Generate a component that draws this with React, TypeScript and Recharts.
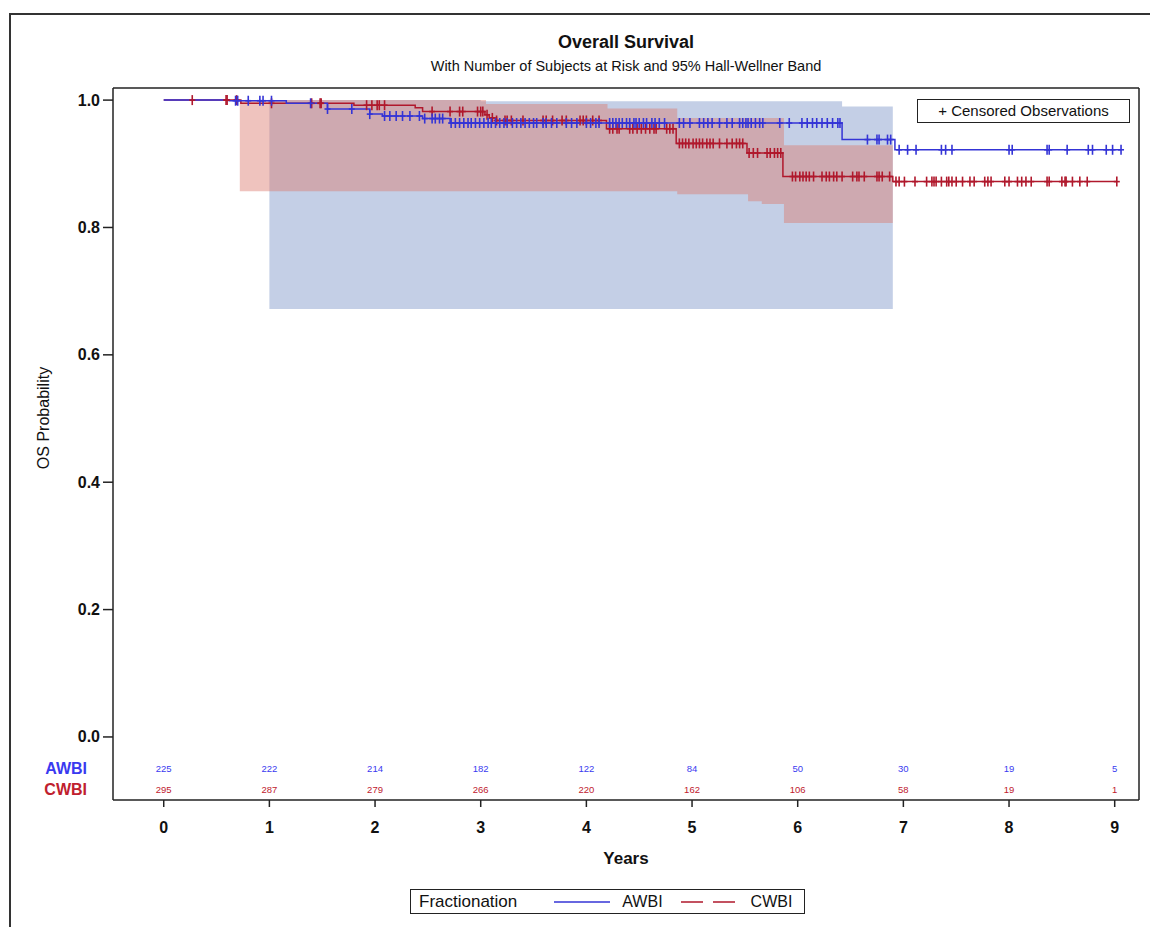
import React from 'react';
import { ComposedChart, Line, Area, Scatter, XAxis, YAxis } from 'recharts';

// axis ticks
const YEAR_TICKS = [0, 1, 2, 3, 4, 5, 6, 7, 8, 9];
const PROB_TICKS = [0, 0.2, 0.4, 0.6, 0.8, 1.0];

// number of subjects at risk at each year tick
const AWBI_AT_RISK = [225, 222, 214, 182, 122, 84, 50, 30, 19, 5];
const CWBI_AT_RISK = [295, 287, 279, 266, 220, 162, 106, 58, 19, 1];

// Kaplan-Meier steps (time in years, survival after the step)
const AWBI_STEP_T = [0, 0.62, 1.16, 1.55, 1.95, 2.07, 2.45, 2.71, 6.42, 6.92, 9.06];
const AWBI_STEP_S = [1.0, 0.999, 0.995, 0.986, 0.978, 0.975, 0.971, 0.964, 0.938, 0.922, 0.922];
const CWBI_STEP_T = [0, 0.73, 1.8, 2.38, 2.45, 3.04, 3.08, 3.15, 4.19, 4.85, 5.52, 5.86, 6.9, 9.02];
const CWBI_STEP_S = [1.0, 0.995, 0.992, 0.988, 0.982, 0.977, 0.972, 0.968, 0.955, 0.932, 0.917, 0.88, 0.872, 0.872];

// censored observations (years)
const AWBI_CENSORED = [
  0.68, 0.7, 0.8, 0.91, 0.94, 1.02, 1.39, 1.55, 1.78, 1.95, 2.09, 2.14, 2.2, 2.26, 2.33, 2.42, 2.47,
  2.54, 2.57, 2.61, 2.64, 2.72, 2.76, 2.8, 2.84, 2.88, 2.91, 2.95, 2.99, 3.03, 3.07, 3.1, 3.14, 3.18,
  3.22, 3.25, 3.3, 3.34, 3.38, 3.42, 3.46, 3.5, 3.53, 3.59, 3.62, 3.67, 3.72, 3.81, 3.86, 3.91, 4.0,
  4.04, 4.09, 4.12, 4.22, 4.25, 4.28, 4.31, 4.34, 4.38, 4.41, 4.45, 4.47, 4.5, 4.54, 4.57, 4.62, 4.65,
  4.69, 4.74, 4.88, 4.92, 4.98, 5.07, 5.11, 5.15, 5.19, 5.26, 5.33, 5.38, 5.45, 5.48, 5.51, 5.53, 5.56,
  5.6, 5.64, 5.67, 5.83, 5.92, 6.04, 6.09, 6.14, 6.18, 6.23, 6.28, 6.33, 6.38, 6.4, 6.66, 6.75, 6.77,
  6.85, 6.88, 6.96, 7.04, 7.12, 7.36, 7.4, 7.46, 8.0, 8.03, 8.36, 8.38, 8.55, 8.75, 8.79, 8.92, 8.98, 9.06,
];
const CWBI_CENSORED = [
  0.27, 0.59, 0.6, 0.69, 1.02, 1.4, 1.48, 1.49, 1.92, 1.97, 2.02, 2.04, 2.09, 2.54, 2.71, 2.8, 2.83,
  2.97, 3.0, 3.02, 3.06, 3.11, 3.15, 3.23, 3.25, 3.29, 3.4, 3.59, 3.62, 3.68, 3.77, 3.81, 3.94, 3.97,
  4.0, 4.06, 4.12, 4.22, 4.25, 4.29, 4.31, 4.41, 4.44, 4.48, 4.52, 4.56, 4.6, 4.64, 4.66, 4.76, 4.79,
  4.82, 4.88, 4.91, 4.94, 4.97, 5.01, 5.04, 5.07, 5.1, 5.14, 5.17, 5.2, 5.26, 5.33, 5.38, 5.42, 5.45,
  5.48, 5.54, 5.58, 5.62, 5.71, 5.74, 5.78, 5.81, 5.84, 5.95, 5.98, 6.02, 6.05, 6.08, 6.11, 6.15, 6.23,
  6.27, 6.3, 6.34, 6.37, 6.42, 6.52, 6.56, 6.58, 6.63, 6.75, 6.77, 6.8, 6.87, 6.93, 6.96, 7.01, 7.11,
  7.22, 7.27, 7.29, 7.31, 7.36, 7.41, 7.43, 7.46, 7.5, 7.56, 7.63, 7.67, 7.77, 7.8, 7.83, 7.96, 8.0,
  8.08, 8.12, 8.16, 8.21, 8.36, 8.38, 8.5, 8.53, 8.54, 8.6, 8.67, 8.74, 9.02,
];

// 95% Hall-Wellner bands: step time, lower, upper
const AWBI_BAND_T = [1.0, 3.0, 6.42, 6.9];
const AWBI_BAND_LO = [0.672, 0.672, 0.672, 0.672];
const AWBI_BAND_HI = [1.0, 0.998, 0.99, 0.99];
const CWBI_BAND_T = [0.72, 3.05, 4.2, 4.86, 5.53, 5.66, 5.87, 6.9];
const CWBI_BAND_LO = [0.857, 0.857, 0.857, 0.852, 0.841, 0.837, 0.807, 0.807];
const CWBI_BAND_HI = [1.0, 0.994, 0.987, 0.972, 0.972, 0.972, 0.929, 0.929];

const BLUE = '#3434d6';
const RED = '#b0182c';
const FONT = '"Liberation Sans", Arial, sans-serif';

// rows of the at-risk table sit under 0 on the probability axis
const RISK_ROWS = [
  { name: 'AWBI', y: -0.049, color: '#3a3af0', counts: AWBI_AT_RISK },
  { name: 'CWBI', y: -0.083, color: '#c0202e', counts: CWBI_AT_RISK },
];

const survAt = (times: number[], surv: number[], t: number) => {
  let s = surv[0];
  times.forEach((tt, i) => { if (tt <= t) s = surv[i]; });
  return s;
};

const kmData = (times: number[], surv: number[]) => times.map((t, i) => ({ t, s: surv[i] }));
const bandData = (times: number[], lo: number[], hi: number[]) =>
  times.map((t, i) => ({ t, band: [lo[i], hi[i]] }));
const censorData = (cens: number[], times: number[], surv: number[]) =>
  cens.map(t => ({ t, s: survAt(times, surv, t) }));

const awbiKm = kmData(AWBI_STEP_T, AWBI_STEP_S);
const cwbiKm = kmData(CWBI_STEP_T, CWBI_STEP_S);
const awbiBand = bandData(AWBI_BAND_T, AWBI_BAND_LO, AWBI_BAND_HI);
const cwbiBand = bandData(CWBI_BAND_T, CWBI_BAND_LO, CWBI_BAND_HI);
const awbiCens = censorData(AWBI_CENSORED, AWBI_STEP_T, AWBI_STEP_S);
const cwbiCens = censorData(CWBI_CENSORED, CWBI_STEP_T, CWBI_STEP_S);
const riskData = RISK_ROWS.map(r => YEAR_TICKS.map((t, i) => ({ t, y: r.y, n: r.counts[i] })));

const censorShape = (color: string) => (props: any) => {
  const { cx, cy } = props;
  return (
    <g stroke={color} strokeWidth={1.6}>
      <line x1={cx} x2={cx} y1={cy - 5} y2={cy + 5} />
      <line x1={cx - 3} x2={cx + 3} y1={cy} y2={cy} />
    </g>
  );
};

const riskShape = (color: string) => (props: any) => (
  <text x={props.cx} y={props.cy} textAnchor="middle" dominantBaseline="central"
    fontSize={9.5} fontFamily={FONT} fill={color}>{props.payload.n}</text>
);

const ProbTick = (props: any) => {
  const { x, y, payload } = props;
  const row = RISK_ROWS.find(r => Math.abs(r.y - payload.value) < 1e-6);
  if (row) {
    return (
      <text x={x - 13} y={y} textAnchor="end" dominantBaseline="central" fontSize={16}
        fontWeight="bold" fontFamily={FONT} fill={row.color}>{row.name}</text>
    );
  }
  return (
    <g>
      <line x1={x + 3} x2={x + 13} y1={y} y2={y} stroke="#222" strokeWidth={1.5} />
      <text x={x} y={y} textAnchor="end" dominantBaseline="central" fontSize={16}
        fontWeight="bold" fontFamily={FONT} fill="#111">{payload.value.toFixed(1)}</text>
    </g>
  );
};

const axisLine = { stroke: '#222', strokeWidth: 1.5 };

export default function App() {
  return (
    <div style={{ position: 'absolute', left: 0, top: 0, width: 1150, height: 927, overflow: 'hidden', background: '#fff', fontFamily: FONT }}>
      <div style={{ position: 'absolute', left: 9, top: 13, width: 1160, height: 940, borderTop: '2px solid #333', borderLeft: '2px solid #333' }} />
      <div style={{ position: 'absolute', left: 113, width: 1026, top: 32, textAlign: 'center', fontSize: 18, fontWeight: 'bold', color: '#111' }}>
        Overall Survival
      </div>
      <div style={{ position: 'absolute', left: 113, width: 1026, top: 58, textAlign: 'center', fontSize: 14.5, color: '#111' }}>
        With Number of Subjects at Risk and 95% Hall-Wellner Band
      </div>

      <div style={{ position: 'absolute', left: 0, top: 0 }}>
        <ComposedChart width={1150} height={927} margin={{ top: 87, right: 10, bottom: 57, left: 13 }}>
          <XAxis dataKey="t" type="number" domain={[-0.48, 9.23]} ticks={YEAR_TICKS} allowDataOverflow interval={0}
            height={70} tickSize={7} tickMargin={15} axisLine={axisLine} tickLine={axisLine}
            tick={{ fontSize: 16, fontWeight: 'bold', fill: '#111', fontFamily: FONT }}
            label={{ value: 'Years', position: 'insideBottom', offset: 6, fontSize: 17, fontWeight: 'bold', fill: '#111', fontFamily: FONT }} />
          <XAxis xAxisId="top" orientation="top" type="number" domain={[0, 1]} height={1}
            tick={false} tickLine={false} axisLine={axisLine} />
          <YAxis type="number" domain={[-0.099, 1.019]} allowDataOverflow width={100} interval={0}
            ticks={[...RISK_ROWS.map(r => r.y), ...PROB_TICKS]} tickSize={10} tickMargin={3}
            tickLine={false} axisLine={axisLine} tick={<ProbTick />}
            label={{
              content: () => (
                <text x={43} y={418} transform="rotate(-90 43 418)" textAnchor="middle" dominantBaseline="central"
                  fontSize={16} fontFamily={FONT} fill="#111">OS Probability</text>
              ),
            }} />
          <YAxis yAxisId="right" orientation="right" type="number" domain={[0, 1]} width={1}
            tick={false} tickLine={false} axisLine={axisLine} />

          <Area data={awbiBand} dataKey="band" type="stepAfter" fill="#c4cfe6" fillOpacity={1}
            stroke="none" isAnimationActive={false} />
          <Area data={cwbiBand} dataKey="band" type="stepAfter" fill="rgb(219,122,110)" fillOpacity={0.45}
            stroke="none" isAnimationActive={false} />

          <Line data={cwbiKm} dataKey="s" type="stepAfter" stroke={RED} strokeWidth={1.5} dot={false}
            isAnimationActive={false} />
          <Line data={awbiKm} dataKey="s" type="stepAfter" stroke={BLUE} strokeWidth={1.5} dot={false}
            isAnimationActive={false} />
          <Scatter data={cwbiCens} dataKey="s" shape={censorShape(RED)} isAnimationActive={false} />
          <Scatter data={awbiCens} dataKey="s" shape={censorShape(BLUE)} isAnimationActive={false} />

          {RISK_ROWS.map((r, i) => (
            <Scatter key={r.name} data={riskData[i]} dataKey="y" shape={riskShape(r.color)} isAnimationActive={false} />
          ))}
        </ComposedChart>
      </div>

      <div style={{ position: 'absolute', left: 917, top: 99, width: 211, height: 22, border: '1.5px solid #222', fontSize: 15, color: '#111', lineHeight: '22px', textAlign: 'center', background: '#fff' }}>
        + Censored Observations
      </div>

      <div style={{ position: 'absolute', left: 410, top: 889, width: 393, height: 23, border: '1.5px solid #222', fontSize: 17, color: '#111', lineHeight: '23px', display: 'flex', alignItems: 'center' }}>
        <span style={{ marginLeft: 8 }}>Fractionation</span>
        <svg width={60} height={10} style={{ marginLeft: 37 }}>
          <line x1={0} x2={56} y1={5} y2={5} stroke={BLUE} strokeWidth={1.5} />
        </svg>
        <span style={{ marginLeft: 8, fontSize: 16 }}>AWBI</span>
        <svg width={60} height={10} style={{ marginLeft: 18 }}>
          <line x1={0} x2={56} y1={5} y2={5} stroke={RED} strokeWidth={1.5} strokeDasharray="22 10" />
        </svg>
        <span style={{ marginLeft: 10, fontSize: 16 }}>CWBI</span>
      </div>
    </div>
  );
}
